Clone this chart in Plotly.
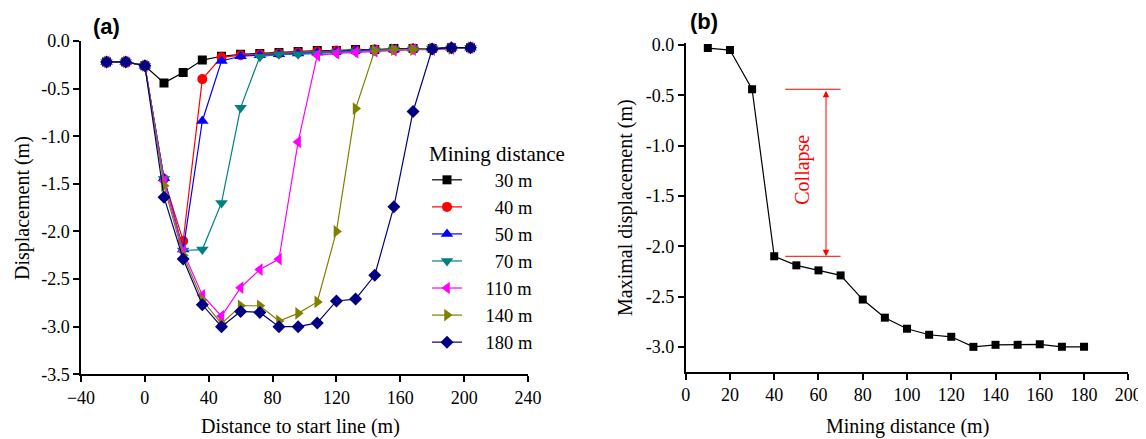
import plotly.graph_objects as go

# page body has an 8px margin; figure fills the rest of the 1146x439 window
OFF = 8
W, H = 1146 - OFF, 439 - OFF
FONT = "Liberation Serif"

# ---------- Panel (a) data ----------
dist = [-24, -12, 0, 12, 24, 36, 48, 60, 72, 84, 96, 108, 120, 132, 144, 156, 168, 180, 192, 204]
series_names = ["30 m", "40 m", "50 m", "70 m", "110 m", "140 m", "180 m"]
d30 = [-0.22, -0.22, -0.26, -0.44, -0.33, -0.20, -0.16, -0.14, -0.13, -0.12, -0.11, -0.10, -0.10, -0.09, -0.09, -0.08, -0.08, -0.08, -0.07, -0.07]
d40 = [-0.22, -0.22, -0.26, -1.45, -2.10, -0.40, -0.17, -0.15, -0.14, -0.13, -0.12, -0.11, -0.10, -0.10, -0.09, -0.09, -0.08, -0.08, -0.07, -0.07]
d50 = [-0.22, -0.22, -0.26, -1.44, -2.19, -0.84, -0.21, -0.16, -0.15, -0.14, -0.13, -0.12, -0.11, -0.10, -0.09, -0.09, -0.08, -0.08, -0.07, -0.07]
d70 = [-0.22, -0.22, -0.26, -1.45, -2.20, -2.19, -1.70, -0.70, -0.165, -0.14, -0.14, -0.13, -0.12, -0.11, -0.10, -0.09, -0.09, -0.08, -0.08, -0.07]
d110 = [-0.22, -0.22, -0.26, -1.47, -2.21, -2.67, -2.89, -2.59, -2.40, -2.29, -1.06, -0.15, -0.13, -0.12, -0.11, -0.10, -0.09, -0.09, -0.08, -0.07]
d140 = [-0.22, -0.22, -0.26, -1.52, -2.25, -2.72, -2.97, -2.78, -2.78, -2.94, -2.86, -2.74, -2.00, -0.71, -0.10, -0.09, -0.09, -0.08, -0.08, -0.07]
d180 = [-0.22, -0.22, -0.26, -1.64, -2.29, -2.77, -3.00, -2.84, -2.85, -3.00, -3.00, -2.96, -2.73, -2.71, -2.46, -1.74, -0.74, -0.085, -0.07, -0.07]
series_values = [d30, d40, d50, d70, d110, d140, d180]
colors = ["#000000", "#FF0000", "#0000FF", "#008080", "#FF00FF", "#808000", "#000080"]
symbols = ["square", "circle", "triangle-up", "triangle-down", "triangle-left", "triangle-right", "diamond"]
sizes = [9, 10, 11, 11, 11, 11, 10]

# ---------- Panel (b) data ----------
mining = [10, 20, 30, 40, 50, 60, 70, 80, 90, 100, 110, 120, 130, 140, 150, 160, 170, 180]
max_disp = [-0.03, -0.05, -0.44, -2.10, -2.19, -2.24, -2.29, -2.53, -2.71, -2.82, -2.88, -2.90, -3.00, -2.98, -2.98, -2.975, -3.00, -3.00]

collapse_top = -0.44
collapse_bottom = -2.10


def px(x):
    return (x - OFF) / W


def py(y):
    return 1 - (y - OFF) / H


def legend_label(name):
    # right-align labels: pad with figure spaces (digit width)
    return ("\u2007\u2007\u2007" + name) if len(name) < 5 else ("\u2007\u2007" + name)


fig = go.Figure()

for name, vals, c, s, sz in zip(series_names, series_values, colors, symbols, sizes):
    fig.add_trace(go.Scatter(
        x=dist, y=vals, mode="lines+markers", name=legend_label(name),
        line=dict(color=c, width=1.2),
        marker=dict(symbol=s, size=sz, color=c),
        xaxis="x", yaxis="y",
    ))

fig.add_trace(go.Scatter(
    x=mining, y=max_disp, mode="lines+markers", showlegend=False,
    line=dict(color="black", width=1.2),
    marker=dict(symbol="square", size=8, color="black"),
    xaxis="x2", yaxis="y2",
))

axis_common = dict(
    showgrid=False, zeroline=False, showline=True, linecolor="black", linewidth=1.5,
    ticks="outside", ticklen=6, tickwidth=1.5, tickcolor="black", mirror=False,
    automargin=False,
    tickfont=dict(family=FONT, size=18, color="black"),
)

fig.update_layout(
    width=W, height=H,
    margin=dict(l=0, r=0, t=0, b=0, autoexpand=False),
    paper_bgcolor="white", plot_bgcolor="white",
    font=dict(family=FONT, color="black"),
    xaxis=dict(domain=[px(81), px(528)], range=[-40, 240], tickvals=[-40, 0, 40, 80, 120, 160, 200, 240],
               anchor="y", **axis_common),
    yaxis=dict(domain=[py(374.3), py(41)], range=[-3.5, 0], tickvals=[0, -0.5, -1, -1.5, -2, -2.5, -3, -3.5],
               ticktext=["0.0", "-0.5", "-1.0", "-1.5", "-2.0", "-2.5", "-3.0", "-3.5"],
               anchor="x", **axis_common),
    xaxis2=dict(domain=[px(685.7), px(1128.3)], range=[0, 200], tickvals=list(range(0, 201, 20)),
                anchor="y2", **axis_common),
    yaxis2=dict(domain=[py(372), py(43)], range=[-3.25, 0.02], tickvals=[0, -0.5, -1, -1.5, -2, -2.5, -3],
                ticktext=["0.0", "-0.5", "-1.0", "-1.5", "-2.0", "-2.5", "-3.0"],
                anchor="x2", **axis_common),
    legend=dict(
        x=px(427), y=py(134), xanchor="left", yanchor="top",
        bgcolor="rgba(0,0,0,0)",
        font=dict(family=FONT, size=18.5, color="black"),
        title=dict(text="Mining distance", font=dict(family=FONT, size=21, color="black")),
    ),
    showlegend=True,
)

# Collapse markers
for yv in [collapse_top, collapse_bottom]:
    fig.add_shape(type="line", xref="x2", yref="y2", x0=45, x1=70, y0=yv, y1=yv,
                  line=dict(color="red", width=1))

C = dict(xanchor="center", yanchor="middle", showarrow=False)
annotations = [
    dict(x=63.4, y=collapse_bottom, ax=63.4, ay=collapse_top, xref="x2", yref="y2",
         axref="x2", ayref="y2", text="", showarrow=True, arrowside="end+start",
         arrowhead=2, arrowsize=1.3, arrowwidth=1, arrowcolor="red"),
    dict(x=53, y=-1.24, xref="x2", yref="y2", text="Collapse", textangle=-90,
         font=dict(family=FONT, size=20, color="red"), **C),
    dict(x=px(106), y=py(27), xref="paper", yref="paper", text="<b>(a)</b>",
         font=dict(family="Liberation Sans", size=22, color="black"), **C),
    dict(x=px(704), y=py(22), xref="paper", yref="paper", text="<b>(b)</b>",
         font=dict(family="Liberation Sans", size=22, color="black"), **C),
    dict(x=px(22), y=py(208), xref="paper", yref="paper", text="Displacement (m)",
         textangle=-90, font=dict(family=FONT, size=20, color="black"), **C),
    dict(x=px(301), y=py(426), xref="paper", yref="paper", text="Distance to start line (m)",
         font=dict(family=FONT, size=20, color="black"), **C),
    dict(x=px(625), y=py(208), xref="paper", yref="paper", text="Maximal displacement (m)",
         textangle=-90, font=dict(family=FONT, size=20, color="black"), **C),
    dict(x=px(907), y=py(426), xref="paper", yref="paper", text="Mining distance (m)",
         font=dict(family=FONT, size=20, color="black"), **C),
]
fig.update_layout(annotations=annotations)

fig.write_html("out.html")
